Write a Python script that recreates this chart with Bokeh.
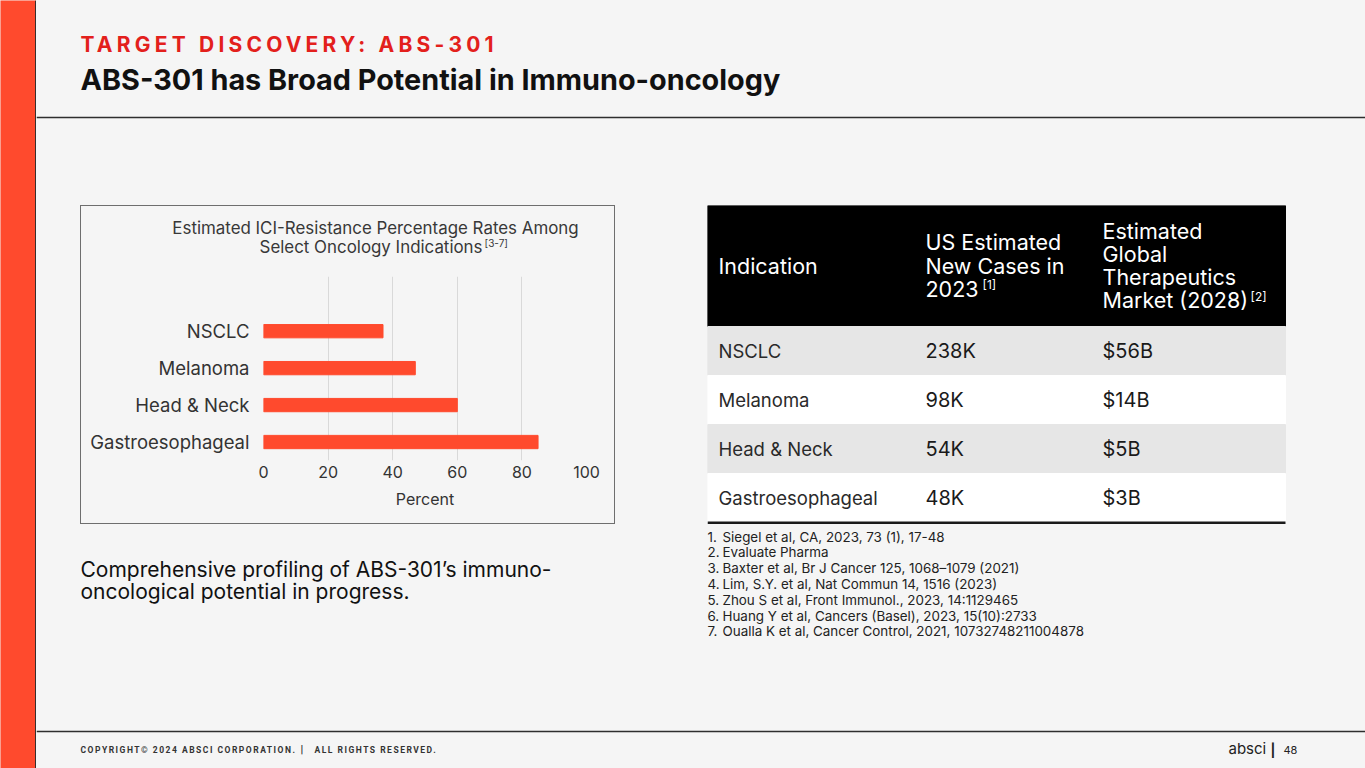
from bokeh.plotting import figure
from bokeh.layouts import row, column
from bokeh.models import Range1d, FixedTicker, Spacer
from bokeh.embed import file_html
from bokeh.resources import INLINE
from bokeh.core.properties import value

# ---------------- data ----------------
kicker = "TARGET DISCOVERY: ABS-301"
headline = "ABS-301 has Broad Potential in Immuno-oncology"
chart_title = ["Estimated ICI-Resistance Percentage Rates Among", "Select Oncology Indications"]
chart_title_ref = "[3-7]"
indications = ["NSCLC", "Melanoma", "Head & Neck", "Gastroesophageal"]
resistance_pct = [37, 47, 60, 85]
x_ticks = [0, 20, 40, 60, 80, 100]
x_label = "Percent"
table_headers = [["Indication"], ["US Estimated", "New Cases in", "2023"],
                 ["Estimated", "Global", "Therapeutics", "Market (2028)"]]
header_refs = ["", "[1]", "[2]"]
us_new_cases = ["238K", "98K", "54K", "48K"]
global_market = ["$56B", "$14B", "$5B", "$3B"]
footnotes = [
    "Siegel et al, CA, 2023, 73 (1), 17-48",
    "Evaluate Pharma",
    "Baxter et al, Br J Cancer 125, 1068–1079 (2021)",
    "Lim, S.Y. et al, Nat Commun 14, 1516 (2023)",
    "Zhou S et al, Front Immunol., 2023, 14:1129465",
    "Huang Y et al,  Cancers (Basel), 2023, 15(10):2733",
    "Oualla K et al, Cancer Control, 2021, 10732748211004878",
]
summary = ["Comprehensive profiling of ABS-301’s immuno-", "oncological potential in progress."]
footer_left = ["COPYRIGHT© 2024 ABSCI CORPORATION.", "|", "ALL RIGHTS RESERVED."]
footer_brand = "absci"
page_number = "48"

# ---------------- style ----------------
BG = "#f5f5f5"
RED = "#ff4a2d"
KICK = "#e3201c"
DARK = "#2e2e2e"
HFONT = value("Inter")
BFONT = value("Inter")
W, H = 1365, 768
BGSTYLE = {"background-color": BG}


def canvas(x0, x1, y0, y1, **kw):
    p = figure(width=x1 - x0, height=y1 - y0, x_range=Range1d(x0, x1), y_range=Range1d(y1, y0),
               x_axis_type=None, y_axis_type=None, output_backend="svg",
               toolbar_location=None, min_border=0, **kw)
    p.grid.visible = False
    p.outline_line_color = None
    p.background_fill_color = BG
    p.border_fill_color = BG
    return p


def spacer(w, h, color=BG):
    return Spacer(width=w, height=h, styles={"background-color": color})


# left red stripe
stripe = canvas(0, 36, 0, H)
stripe.background_fill_color = RED
stripe.border_fill_color = RED
stripe.segment(x0=[35.3], y0=[0], x1=[35.3], y1=[H], line_color=DARK, line_width=1.5)

# kicker (letter-spaced)
kick = canvas(36, W, 0, 62, styles={"letter-spacing": "4.2px"})
kick.text(x=[80], y=[44], text=[kicker], text_font=HFONT, text_font_size="21px",
          text_font_style="bold", text_color=KICK, text_baseline="middle")

# headline + rule
head = canvas(36, W, 62, 205)
head.text(x=[80], y=[79], text=[headline], text_font=HFONT, text_font_size="28.8px",
          text_font_style="bold", text_color="#111111", text_baseline="middle")
head.segment(x0=[36], y0=[117], x1=[W], y1=[117], line_color=DARK, line_width=1.5)

# ---------------- bar chart ----------------
ctitle = canvas(81, 614, 206, 262)
ctitle.text(x=[375], y=[227], text=[chart_title[0]], text_font=BFONT, text_font_size="16.9px",
            text_color="#383838", text_align="center", text_baseline="middle")
ctitle.text(x=[482], y=[246], text=[chart_title[1]], text_font=BFONT, text_font_size="16.9px",
            text_color="#383838", text_align="right", text_baseline="middle")
ctitle.text(x=[484], y=[242], text=[chart_title_ref], text_font=BFONT, text_font_size="10px",
            text_color="#383838", text_align="left", text_baseline="middle")

ypos = list(range(len(indications)))[::-1]
chart = figure(width=533, height=261, x_range=Range1d(0, 100), y_range=Range1d(-0.5, 4.48),
               output_backend="svg", toolbar_location=None,
               min_border_left=182, min_border_right=28, min_border_top=14, min_border_bottom=63)
chart.background_fill_color = BG
chart.border_fill_color = BG
chart.outline_line_color = None
chart.hbar(y=ypos, left=0, right=resistance_pct, height=0.36, color=RED)

chart.xaxis.ticker = FixedTicker(ticks=x_ticks)
chart.xaxis.axis_label = x_label
chart.yaxis.ticker = FixedTicker(ticks=ypos)
chart.yaxis.major_label_overrides = {y: name for y, name in zip(ypos, indications)}
for ax in (chart.xaxis[0], chart.yaxis[0]):
    ax.axis_line_color = None
    ax.major_tick_line_color = None
    ax.major_tick_out = 0
    ax.major_tick_in = 0
    ax.minor_tick_line_color = None
    ax.minor_tick_out = 0
    ax.major_label_text_font = "Inter"
    ax.major_label_text_color = "#333333"
chart.xaxis.major_label_text_font_size = "16px"
chart.xaxis.major_label_standoff = 5
chart.xaxis.axis_label_text_font = "Inter"
chart.xaxis.axis_label_text_font_style = "normal"
chart.xaxis.axis_label_text_font_size = "16px"
chart.xaxis.axis_label_text_color = "#333333"
chart.xaxis.axis_label_standoff = 8
chart.yaxis.major_label_text_font_size = "18.5px"
chart.yaxis.major_label_standoff = 14
chart.ygrid.visible = False
chart.xgrid.grid_line_color = "#d9d9d9"

BORDER = "#6e6e6e"
chart_box = column(
    spacer(535, 1, BORDER),
    row(spacer(1, 56, BORDER), ctitle, spacer(1, 56, BORDER), styles=BGSTYLE),
    row(spacer(1, 261, BORDER), chart, spacer(1, 261, BORDER), styles=BGSTYLE),
    spacer(535, 1, BORDER),
    styles=BGSTYLE,
)

# ---------------- table ----------------
table = canvas(707, W, 205, 524)
row_h = 49
row_tops = [326 + i * row_h for i in range(len(indications))]
row_cols = ["#e6e6e6" if i % 2 == 0 else "#ffffff" for i in range(len(indications))]
table.quad(left=[707], right=[1285], top=[205], bottom=[326], color="#000000")
table.quad(left=707, right=1285, top=row_tops, bottom=[t + row_h for t in row_tops],
           color=row_cols)
table.segment(x0=[707], y0=[522.5], x1=[1285], y1=[522.5], line_color="#1a1a1a", line_width=3)

col_x = [718, 925, 1102]
for cxp, lines in zip(col_x, table_headers):
    n = len(lines)
    ys = [265 + (i - (n - 1) / 2) * 23.3 for i in range(n)]
    table.text(x=[cxp] * n, y=ys, text=lines, text_font=BFONT, text_font_size="21.5px",
               text_color="#ffffff", text_baseline="middle")
table.text(x=[982, 1250], y=[284, 296], text=header_refs[1:], text_font=BFONT,
           text_font_size="12px", text_color="#ffffff", text_baseline="middle")

row_mid = [t + row_h / 2 for t in row_tops]
table.text(x=[col_x[0]] * len(indications), y=row_mid, text=indications, text_font=BFONT,
           text_font_size="18.5px", text_color="#2a2a2a", text_baseline="middle")
table.text(x=[col_x[1]] * len(indications), y=row_mid, text=us_new_cases, text_font=BFONT,
           text_font_size="20px", text_color="#1a1a1a", text_baseline="middle")
table.text(x=[col_x[2]] * len(indications), y=row_mid, text=global_market, text_font=BFONT,
           text_font_size="20px", text_color="#1a1a1a", text_baseline="middle")

mid = row(spacer(44, 319), chart_box, spacer(92, 319), table, styles=BGSTYLE)

# ---------------- bottom ----------------
bottom = canvas(36, W, 524, 738)
bottom.text(x=[80, 80], y=[569, 591], text=summary, text_font=BFONT, text_font_size="21px",
            text_color="#111111", text_baseline="middle")
fy = [536 + i * 15.8 for i in range(len(footnotes))]
bottom.text(x=[707] * len(footnotes), y=fy, text=[f"{i + 1}." for i in range(len(footnotes))],
            text_font=BFONT, text_font_size="13.4px", text_color="#222222", text_baseline="middle")
bottom.text(x=[722] * len(footnotes), y=fy, text=footnotes, text_font=BFONT,
            text_font_size="13.4px", text_color="#222222", text_baseline="middle")
bottom.segment(x0=[36], y0=[731], x1=[W], y1=[731], line_color=DARK, line_width=1.5)

foot_l = canvas(36, 700, 738, H, styles={"letter-spacing": "1.5px"})
foot_l.text(x=[80, 300, 314], y=[749, 749, 749], text=footer_left, text_font=value("Roboto"),
            text_font_size=["8.5px", "11px", "8.5px"], text_font_style="bold",
            text_color="#333333", text_baseline="middle")
foot_r = canvas(700, W, 738, H)
foot_r.text(x=[1228], y=[748], text=[footer_brand], text_font=BFONT, text_font_size="15px",
            text_color="#222222", text_baseline="middle")
foot_r.text(x=[1270], y=[749], text=["|"], text_font=BFONT, text_font_size="13px",
            text_font_style="bold", text_color="#222222", text_baseline="middle")
foot_r.text(x=[1283], y=[749], text=[page_number], text_font=BFONT, text_font_size="11px",
            text_color="#222222", text_baseline="middle")

right = column(kick, head, mid, bottom, row(foot_l, foot_r, styles=BGSTYLE), styles=BGSTYLE)
page = row(stripe, right, styles=BGSTYLE)

open("out.html", "w").write(file_html(page, INLINE))
